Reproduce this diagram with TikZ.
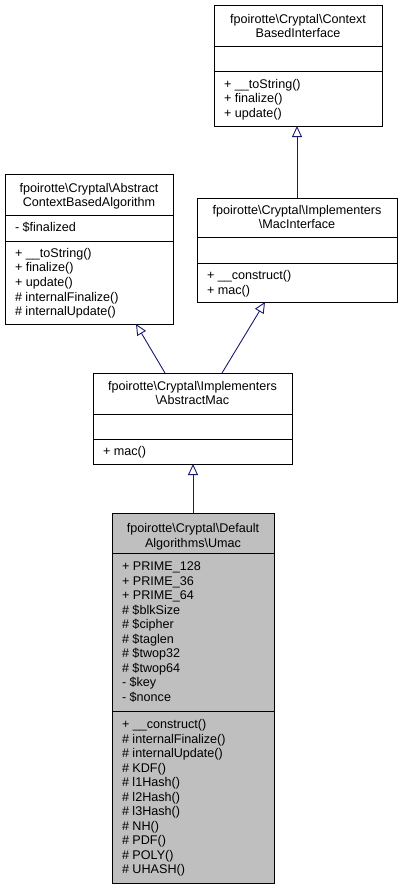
\documentclass[tikz,border=0pt]{standalone}
\usepackage{fontspec}
\setmainfont{Liberation Sans}
\usetikzlibrary{arrows.meta,calc}
\definecolor{edgeblue}{HTML}{191970}
\definecolor{umacgray}{HTML}{BFBFBF}
\newcommand{\bs}{\textbackslash}
\begin{document}
\begin{tikzpicture}[x=1pt,y=-1pt,
  umlbox/.style={draw=black,line width=0.9pt,inner sep=0pt,outer sep=0pt,anchor=north west},
  sepline/.style={draw=black,line width=0.9pt},
  txt/.style={inner sep=0pt,outer sep=0pt,anchor=base west,font=\fontsize{12.6}{14.5}\selectfont},
  ttl/.style={inner sep=0pt,outer sep=0pt,anchor=base,font=\fontsize{12.6}{14.5}\selectfont},
  inh/.style={draw=edgeblue,line width=0.9pt,-{Triangle[open,length=11pt,width=10pt]}}]
\useasboundingbox (0,0) rectangle (402,889);

% ---- Box 1: ContextBasedInterface
\node[umlbox,minimum width=168pt,minimum height=121pt] (b1) at (214,5) {};
\draw[sepline] ($(b1.north west)+(0,41)$) -- ($(b1.north east)+(0,41)$);
\draw[sepline] ($(b1.north west)+(0,66)$) -- ($(b1.north east)+(0,66)$);
\node[ttl] (b1t1) at (298,23) {fpoirotte\bs Cryptal\bs Context};
\node[ttl] (b1t2) at (298,37.5) {BasedInterface};
\node[txt] (b1m1) at (224,88) {+ \_\_toString()};
\node[txt] (b1m2) at (224,102.5) {+ finalize()};
\node[txt] (b1m3) at (224,117) {+ update()};

% ---- Box 2: AbstractContextBasedAlgorithm
\node[umlbox,minimum width=168pt,minimum height=150pt] (b2) at (5,174) {};
\draw[sepline] ($(b2.north west)+(0,41)$) -- ($(b2.north east)+(0,41)$);
\draw[sepline] ($(b2.north west)+(0,67)$) -- ($(b2.north east)+(0,67)$);
\node[ttl] (b2t1) at (89,192) {fpoirotte\bs Cryptal\bs Abstract};
\node[ttl] (b2t2) at (89,206.5) {ContextBasedAlgorithm};
\node[txt] (b2a1) at (15,231.5) {- \$finalized};
\node[txt] (b2m1) at (15,257) {+ \_\_toString()};
\node[txt] (b2m2) at (15,271.5) {+ finalize()};
\node[txt] (b2m3) at (15,286.5) {+ update()};
\node[txt] (b2m4) at (15,301) {\# internalFinalize()};
\node[txt] (b2m5) at (15,315.5) {\# internalUpdate()};

% ---- Box 3: MacInterface
\node[umlbox,minimum width=200pt,minimum height=104pt] (b3) at (197,198) {};
\draw[sepline] ($(b3.north west)+(0,39)$) -- ($(b3.north east)+(0,39)$);
\draw[sepline] ($(b3.north west)+(0,65)$) -- ($(b3.north east)+(0,65)$);
\node[ttl] (b3t1) at (297,214.5) {fpoirotte\bs Cryptal\bs Implementers};
\node[ttl] (b3t2) at (297,228.5) {\bs MacInterface};
\node[txt] (b3m1) at (207,279.5) {+ \_\_construct()};
\node[txt] (b3m2) at (207,294) {+ mac()};

% ---- Box 4: AbstractMac
\node[umlbox,minimum width=199pt,minimum height=91pt] (b4) at (93,373) {};
\draw[sepline] ($(b4.north west)+(0,41)$) -- ($(b4.north east)+(0,41)$);
\draw[sepline] ($(b4.north west)+(0,66)$) -- ($(b4.north east)+(0,66)$);
\node[ttl] (b4t1) at (192.5,390) {fpoirotte\bs Cryptal\bs Implementers};
\node[ttl] (b4t2) at (192.5,404.5) {\bs AbstractMac};
\node[txt] (b4m1) at (103,455.5) {+ mac()};

% ---- Box 5: Umac
\node[umlbox,fill=umacgray,minimum width=162pt,minimum height=370pt] (b5) at (112,513) {};
\draw[sepline] ($(b5.north west)+(0,40)$) -- ($(b5.north east)+(0,40)$);
\draw[sepline] ($(b5.north west)+(0,198)$) -- ($(b5.north east)+(0,198)$);
\node[ttl] (b5t1) at (193,532.5) {fpoirotte\bs Cryptal\bs Default};
\node[ttl] (b5t2) at (193,547) {Algorithms\bs Umac};
\foreach \t [count=\i from 0] in {+ PRIME\_128,+ PRIME\_36,+ PRIME\_64,\# \$blkSize,\# \$cipher,\# \$taglen,\# \$twop32,\# \$twop64,- \$key,- \$nonce}
  \node[txt] (b5a\i) at (122,570.5+14.5*\i) {\t};
\foreach \t [count=\i from 0] in {+ \_\_construct(),\# internalFinalize(),\# internalUpdate(),\# KDF(),\# l1Hash(),\# l2Hash(),\# l3Hash(),\# NH(),\# PDF(),\# POLY(),\# UHASH()}
  \node[txt] (b5m\i) at (122,728.5+14.5*\i) {\t};

% ---- Inheritance connectors
\draw[inh] ($(b3.north west)+(100,0)$) -- ($(b1.south west)+(83,0)$);
\draw[inh] ($(b4.north west)+(72,0)$) -- ($(b2.south west)+(131,0)$);
\draw[inh] ($(b4.north west)+(129,0)$) -- ($(b3.south west)+(68,0)$);
\draw[inh] ($(b5.north west)+(81,0)$) -- ($(b4.south west)+(100,0)$);
\end{tikzpicture}
\end{document}
